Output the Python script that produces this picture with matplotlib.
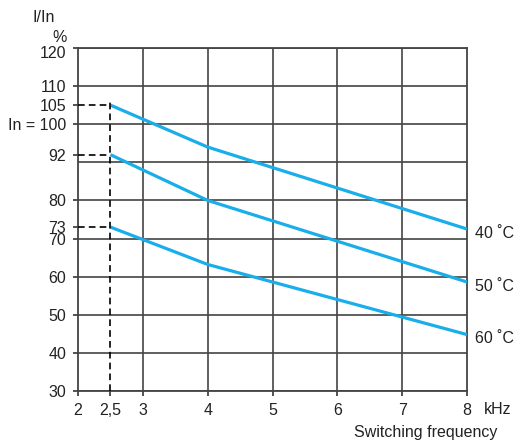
import matplotlib.pyplot as plt
import matplotlib.transforms as mtransforms

plt.rcParams['font.family'] = ['Liberation Sans', 'DejaVu Sans']

# switching frequency (kHz) and derated current I/In (%)
freq = [2.5, 4, 8]
curve_40 = [105, 94, 72.5]
curve_50 = [92, 80, 58.6]
curve_60 = [73, 63.2, 44.8]
curve_labels = ['40 ˚C', '50 ˚C', '60 ˚C']

x_ticks = [2, 2.5, 3, 4, 5, 6, 7, 8]
x_ticklabels = ['2', '2,5', '3', '4', '5', '6', '7', '8']
y_ticks = [30, 40, 50, 60, 70, 73, 80, 92, 100, 105, 110, 120]
y_ticklabels = ['30', '40', '50', '60', '70', '73', '80', '92', 'In = 100', '105', '110', '120']
grid_y = [30, 40, 50, 60, 70, 80, 90, 100, 110, 120]
marked = [105, 92, 73]

blue = '#19aeea'
fs = 11.5

fig = plt.figure(figsize=(5.15, 4.41), dpi=100)
ax = fig.add_axes([0.1515, 0.1134, 0.7553, 0.7778])

ax.set_xlim(2, 8)
ax.set_ylim(30, 120)

# grid drawn by hand so the unlabeled 90 line shows
for v in grid_y:
    ax.axhline(v, color='#333333', lw=1.1, zorder=1)
for v in [3, 4, 5, 6, 7]:
    ax.axvline(v, color='#444444', lw=1.2, zorder=1)

for ys in (curve_40, curve_50, curve_60):
    ax.plot(freq, ys, color=blue, lw=2.3, zorder=3, solid_capstyle='butt')

for ys, lab in zip((curve_40, curve_50, curve_60), curve_labels):
    ax.annotate(lab, (freq[-1], ys[-1]), xytext=(6, -3), textcoords='offset points',
                fontsize=fs, va='center', ha='left', color='#222222', annotation_clip=False)

# dashed reference lines at 2,5 kHz
for v in marked:
    ax.plot([2, 2.5], [v, v], color='black', lw=1.2, ls=(0, (4, 2.5)), zorder=4)
ax.plot([2.5, 2.5], [30, marked[0] + 1.2], color='black', lw=1.2, ls=(0, (4, 2.5)), zorder=4)

ax.set_xticks(x_ticks)
ax.set_xticklabels(x_ticklabels)
ax.set_yticks(y_ticks)
ax.set_yticklabels(y_ticklabels)
ax.tick_params(axis='both', labelsize=fs, colors='#222222', length=3.5, width=1.1)
ax.tick_params(axis='y', pad=5)
ax.tick_params(axis='x', pad=5)

# the top label sits a little below its line
top_lab = ax.get_yticklabels()[-1]
top_lab.set_transform(top_lab.get_transform() +
                      mtransforms.ScaledTranslation(0, -4 / 100, fig.dpi_scale_trans))

for s in ax.spines.values():
    s.set_color('#444444')
    s.set_linewidth(1.3)

fig.text(32 / 515, 1 - 17 / 441, 'I/In', fontsize=fs, va='center', ha='left', color='#222222')
fig.text(52 / 515, 1 - 37 / 441, '%', fontsize=fs, va='center', ha='left', color='#222222')
fig.text(484 / 515, 1 - 409 / 441, 'kHz', fontsize=fs, va='center', ha='left', color='#222222')
fig.text(497 / 515, 1 - 432 / 441, 'Switching frequency', fontsize=fs, va='center', ha='right',
         color='#222222')

fig.savefig('out.png', dpi=100)
